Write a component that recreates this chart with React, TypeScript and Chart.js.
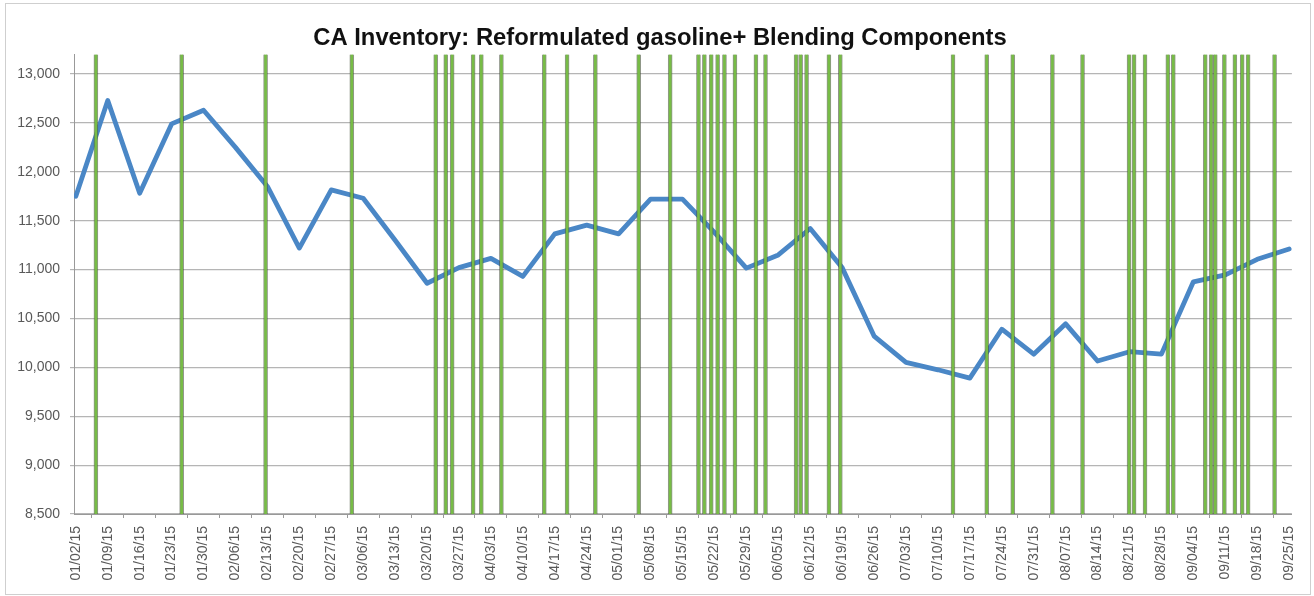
import React, { useEffect, useRef } from "react";
import { Chart, registerables } from "chart.js";

Chart.register(...registerables);

const TITLE = "CA Inventory: Reformulated gasoline+ Blending Components";

// Weekly tick labels (one every 7 days starting 01/02/15)
const weekLabels = [
  "01/02/15", "01/09/15", "01/16/15", "01/23/15", "01/30/15", "02/06/15", "02/13/15",
  "02/20/15", "02/27/15", "03/06/15", "03/13/15", "03/20/15", "03/27/15", "04/03/15",
  "04/10/15", "04/17/15", "04/24/15", "05/01/15", "05/08/15", "05/15/15", "05/22/15",
  "05/29/15", "06/05/15", "06/12/15", "06/19/15", "06/26/15", "07/03/15", "07/10/15",
  "07/17/15", "07/24/15", "07/31/15", "08/07/15", "08/14/15", "08/21/15", "08/28/15",
  "09/04/15", "09/11/15", "09/18/15", "09/25/15",
];

// Weekly inventory values (one per week label)
const inventory = [
  11750, 12730, 11780, 12490, 12630, 12250, 11850, 11220, 11815, 11730, 11300, 10860,
  11020, 11115, 10930, 11365, 11455, 11365, 11720, 11720, 11380, 11015, 11150, 11420,
  11020, 10320, 10050, 9975, 9890, 10390, 10135, 10445, 10065, 10160, 10135, 10875,
  10945, 11105, 11210,
];

// Y-axis tick values
const yTicks = [8500, 9000, 9500, 10000, 10500, 11000, 11500, 12000, 12500, 13000];

// Event markers: days after 01/02/15 where a green column is drawn
const eventDays = [
  4.4, 23.2, 41.6, 60.5, 78.9, 81.1, 82.5, 87.1, 88.9, 93.3, 102.7, 107.7, 113.9,
  123.4, 130.3, 136.5, 137.8, 139.3, 140.7, 142.2, 144.5, 149.1, 151.2, 157.9, 158.9,
  160.2, 165.1, 167.6, 192.3, 199.7, 205.4, 214.1, 220.7, 230.9, 232.0, 234.4, 239.4,
  240.6, 247.6, 248.9, 249.8, 251.8, 254.1, 255.7, 257.0, 262.8,
];
const eventLevel = 13200;

const DAYS_PER_WEEK = 7;

export default function App() {
  const canvasRef = useRef<HTMLCanvasElement | null>(null);

  useEffect(() => {
    const canvas = canvasRef.current;
    if (!canvas) return;

    const font = "'Liberation Sans', Arial, sans-serif";

    const frameAndTitle = {
      id: "frameAndTitle",
      afterDraw(chart: any) {
        const ctx = chart.ctx;
        ctx.save();
        ctx.strokeStyle = "#cfcfcf";
        ctx.lineWidth = 1;
        ctx.strokeRect(5.5, 3.5, 1305, 591);
        ctx.fillStyle = "#111";
        ctx.font = `bold 23.8px ${font}`;
        ctx.textAlign = "center";
        ctx.textBaseline = "middle";
        ctx.fillText(TITLE, 660, 38.5);
        ctx.restore();
      },
    };

    const chart = new Chart(canvas, {
      type: "bar",
      data: {
        datasets: [
          {
            type: "bar",
            label: "Events",
            data: eventDays.map((d) => ({ x: d, y: eventLevel })),
            backgroundColor: "#77BC46",
            borderColor: "rgba(70,80,60,0.6)",
            borderWidth: { left: 1, right: 1, top: 0, bottom: 0 },
            borderSkipped: false,
            barThickness: 4,
            grouped: false,
          } as any,
          {
            type: "line",
            label: "Inventory",
            data: weekLabels.map((_, i) => ({ x: i * DAYS_PER_WEEK, y: inventory[i] })),
            borderColor: "#4A87C6",
            borderWidth: 4.8,
            borderCapStyle: "round",
            borderJoinStyle: "round",
            pointRadius: 0,
            tension: 0,
            fill: false,
          } as any,
        ],
      },
      options: {
        responsive: false,
        animation: false,
        layout: { padding: { left: 0, right: 19, top: 54, bottom: 0 } },
        plugins: {
          legend: { display: false },
          tooltip: { enabled: false },
          title: { display: false },
        },
        scales: {
          x: {
            type: "linear",
            min: -0.4,
            max: 266.6,
            offset: false,
            afterFit: (scale: any) => {
              scale.height = 82;
            },
            grid: {
              drawOnChartArea: false,
              drawTicks: true,
              tickLength: 4,
              color: "#999",
            },
            border: { display: true, color: "#999", width: 1 },
            ticks: {
              stepSize: DAYS_PER_WEEK,
              autoSkip: false,
              includeBounds: false,
              maxRotation: 90,
              minRotation: 90,
              padding: 8,
              color: "#595959",
              font: { family: font, size: 14 },
              callback: (v: any) => {
                const idx = Math.round(Number(v) / DAYS_PER_WEEK);
                return weekLabels[idx] ?? "";
              },
            },
          },
          y: {
            type: "linear",
            min: 8500,
            max: 13205,
            afterFit: (scale: any) => {
              scale.width = 74;
            },
            afterBuildTicks: (scale: any) => {
              scale.ticks = yTicks.map((v) => ({ value: v }));
            },
            grid: {
              color: "#b5b5b5",
              lineWidth: 1.2,
              drawTicks: true,
              tickLength: 4,
            },
            border: { display: true, color: "#999", width: 1 },
            ticks: {
              padding: 10,
              color: "#595959",
              font: { family: font, size: 14 },
              callback: (v: any) => Number(v).toLocaleString("en-US"),
            },
          },
        },
      } as any,
      plugins: [frameAndTitle],
    });

    return () => chart.destroy();
  }, []);

  return (
    <div style={{ position: "absolute", left: 0, top: 0, width: 1314, height: 596, background: "#fff" }}>
      <canvas ref={canvasRef} width={1314} height={596} style={{ width: 1314, height: 596, display: "block" }} />
    </div>
  );
}
